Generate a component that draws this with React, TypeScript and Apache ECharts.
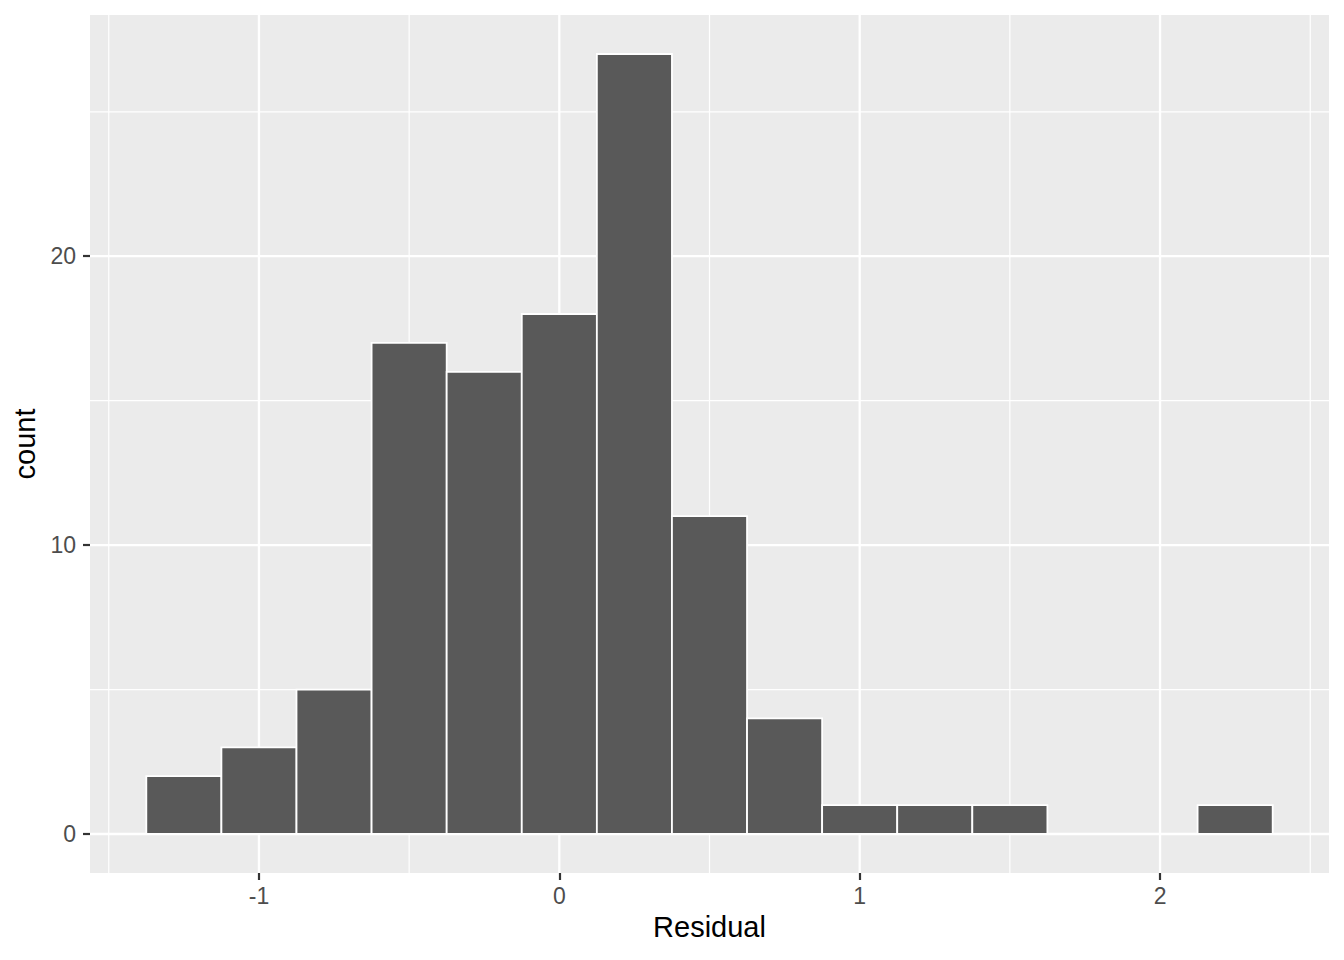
import React, { useEffect, useRef } from "react";
import * as echarts from "echarts";

// Histogram bins (binwidth 0.25)
const binStarts = [-1.375, -1.125, -0.875, -0.625, -0.375, -0.125, 0.125, 0.375, 0.625, 0.875, 1.125, 1.375, 1.625, 1.875, 2.125];
const binEnds = [-1.125, -0.875, -0.625, -0.375, -0.125, 0.125, 0.375, 0.625, 0.875, 1.125, 1.375, 1.625, 1.875, 2.125, 2.375];
const counts = [2, 3, 5, 17, 16, 18, 27, 11, 4, 1, 1, 1, 0, 0, 1];

const xTicks = [-1, 0, 1, 2];
const xMinor = [-1.5, -0.5, 0.5, 1.5, 2.5];
const yTicks = [0, 10, 20];
const yMinor = [5, 15, 25];

const X_MIN = -1.5625;
const X_MAX = 2.5625;
const Y_MIN = -1.35;
const Y_MAX = 28.35;

const FONT = "'Liberation Sans', Arial, Helvetica, sans-serif";

export default function App() {
  const ref = useRef<HTMLDivElement>(null);

  useEffect(() => {
    if (!ref.current) return;
    const chart = echarts.init(ref.current, null, { renderer: "svg" });

    const vLine = (major: boolean) => (params: any, api: any) => {
      const cs = params.coordSys;
      const x = api.coord([api.value(0), 0])[0];
      return {
        type: "line",
        shape: { x1: x, y1: cs.y, x2: x, y2: cs.y + cs.height },
        style: { stroke: "#FFFFFF", lineWidth: major ? 2.3 : 1.2 },
        silent: true,
      };
    };
    const hLine = (major: boolean) => (params: any, api: any) => {
      const cs = params.coordSys;
      const y = api.coord([0, api.value(1)])[1];
      return {
        type: "line",
        shape: { x1: cs.x, y1: y, x2: cs.x + cs.width, y2: y },
        style: { stroke: "#FFFFFF", lineWidth: major ? 2.3 : 1.2 },
        silent: true,
      };
    };

    const axisText = { color: "#4D4D4D", fontSize: 23, fontFamily: FONT };

    chart.setOption({
      animation: false,
      backgroundColor: "#FFFFFF",
      grid: {
        left: 90,
        right: 15,
        top: 15,
        bottom: 87,
        containLabel: false,
        outerBoundsMode: "none",
        show: true,
        backgroundColor: "#EBEBEB",
        borderWidth: 0,
      },
      xAxis: {
        type: "value",
        min: X_MIN,
        max: X_MAX,
        name: "Residual",
        nameLocation: "middle",
        nameGap: 39,
        nameTextStyle: { color: "#000000", fontSize: 29, fontFamily: FONT },
        axisLine: { show: false, onZero: false },
        splitLine: { show: false },
        axisTick: {
          show: true,
          customValues: xTicks,
          length: 7,
          lineStyle: { color: "#333333", width: 2.2 },
        },
        axisLabel: {
          customValues: xTicks,
          margin: 11,
          ...axisText,
          formatter: (v: number) => String(v),
        },
      },
      yAxis: {
        type: "value",
        min: Y_MIN,
        max: Y_MAX,
        name: "count",
        nameLocation: "middle",
        nameGap: 50,
        nameRotate: 90,
        nameTextStyle: { color: "#000000", fontSize: 29, fontFamily: FONT },
        axisLine: { show: false, onZero: false },
        splitLine: { show: false },
        axisTick: {
          show: true,
          customValues: yTicks,
          length: 7,
          lineStyle: { color: "#333333", width: 2.2 },
        },
        axisLabel: {
          customValues: yTicks,
          margin: 14,
          ...axisText,
          formatter: (v: number) => String(v),
        },
      },
      series: [
        {
          type: "custom",
          z: 1,
          silent: true,
          renderItem: vLine(false),
          data: xMinor.map((v) => [v, 0]),
          encode: { x: 0, y: 1 },
        },
        {
          type: "custom",
          z: 1,
          silent: true,
          renderItem: hLine(false),
          data: yMinor.map((v) => [0, v]),
          encode: { x: 0, y: 1 },
        },
        {
          type: "custom",
          z: 1,
          silent: true,
          renderItem: vLine(true),
          data: xTicks.map((v) => [v, 0]),
          encode: { x: 0, y: 1 },
        },
        {
          type: "custom",
          z: 1,
          silent: true,
          renderItem: hLine(true),
          data: yTicks.map((v) => [0, v]),
          encode: { x: 0, y: 1 },
        },
        {
          type: "custom",
          z: 2,
          renderItem: (params: any, api: any) => {
            const x0 = api.value(0);
            const x1 = api.value(1);
            const c = api.value(2);
            const p0 = api.coord([x0, 0]);
            const p1 = api.coord([x1, c]);
            return {
              type: "rect",
              shape: {
                x: p0[0],
                y: p1[1],
                width: p1[0] - p0[0],
                height: p0[1] - p1[1],
              },
              style: { fill: "#595959", stroke: "#FFFFFF", lineWidth: 1.8 },
            };
          },
          data: binStarts.map((s, i) => [s, binEnds[i], counts[i]]),
          encode: { x: [0, 1], y: 2 },
        },
      ],
    });

    return () => chart.dispose();
  }, []);

  return (
    <div
      ref={ref}
      style={{ position: "fixed", left: 0, top: 0, width: 1344, height: 960 }}
    />
  );
}
